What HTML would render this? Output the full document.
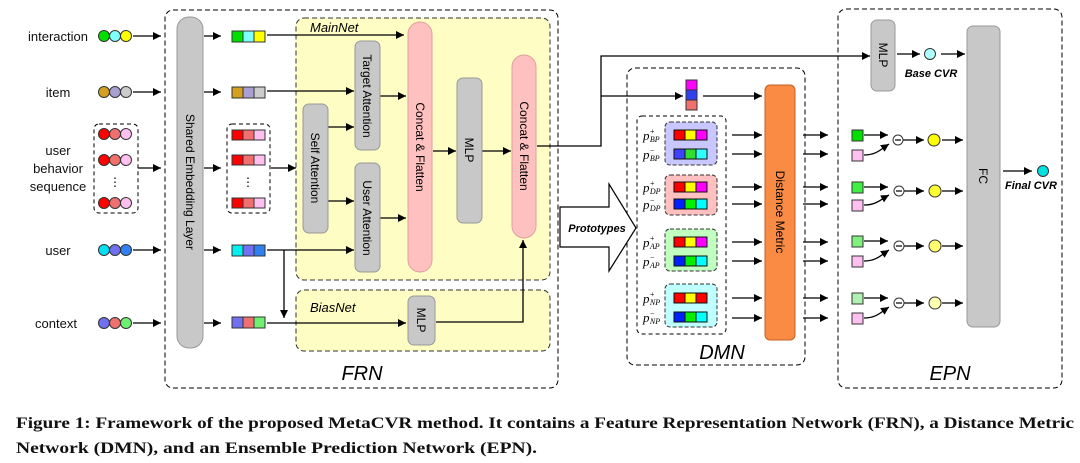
<!DOCTYPE html>
<html><head><meta charset="utf-8"><style>
html,body{margin:0;padding:0;background:#fff;}
svg{display:block;font-family:"Liberation Sans",sans-serif;}
</style></head><body>
<svg width="1080" height="463" viewBox="0 0 1080 463" xmlns="http://www.w3.org/2000/svg">
<defs>
<marker id="a" viewBox="0 0 10 10" refX="10" refY="5" markerWidth="8" markerHeight="8" markerUnits="userSpaceOnUse" orient="auto"><path d="M0,0 L10,5 L0,10 z" fill="#000"/></marker>
</defs>
<!-- boxes -->
<rect x="165" y="10" width="393" height="378" rx="8" fill="none" stroke="#000" stroke-dasharray="5,3"/>
<rect x="296" y="18" width="254" height="262" rx="8" fill="#fdfdc4" stroke="#333" stroke-dasharray="5,3"/>
<rect x="296" y="290" width="254" height="61" rx="8" fill="#fdfdc4" stroke="#333" stroke-dasharray="5,3"/>
<rect x="627" y="68" width="178" height="297" rx="8" fill="none" stroke="#000" stroke-dasharray="5,3"/>
<rect x="838" y="9" width="224" height="379" rx="8" fill="none" stroke="#000" stroke-dasharray="5,3"/>
<g stroke="#000" stroke-width="1.3" fill="none" marker-end="url(#a)">
<path d="M133 36 H161"/><path d="M133 92 H161"/><path d="M138 168 H161"/><path d="M133 250 H161"/><path d="M133 323 H161"/>
<path d="M204 36 H221"/><path d="M204 92 H221"/><path d="M204 168 H221"/><path d="M204 250 H221"/><path d="M204 323 H221"/>
<path d="M267 35 H404"/><path d="M267 91 H354"/><path d="M271 168 H296"/><path d="M267 250 H354"/>
<path d="M267 323 H406"/><path d="M284 250 V318"/>
<path d="M328 127 H354"/><path d="M328 201 H354"/>
<path d="M380 96 H406"/><path d="M380 218 H406"/>
<path d="M433 151 H456"/><path d="M482 151 H511"/>
<path d="M436 322 H523 V240"/>
<path d="M537 146 H601 V56 H870"/>
<path d="M601 96 H683"/>
<path d="M703 96 H762"/>
<path d="M897 54 H920"/><path d="M941 54 H965"/>
<path d="M1003 171 H1032"/>
</g>
<text x="310" y="32" font-size="13" font-style="italic">MainNet</text>
<text x="310" y="312" font-size="13" font-style="italic">BiasNet</text>
<text x="362" y="380" font-size="20" font-style="italic" text-anchor="middle">FRN</text>
<text x="722" y="359" font-size="20" font-style="italic" text-anchor="middle">DMN</text>
<text x="950" y="380" font-size="20" font-style="italic" text-anchor="middle">EPN</text>
<!-- left labels -->
<g font-size="13" text-anchor="middle" fill="#111">
<text x="58" y="41">interaction</text><text x="58" y="97">item</text>
<text x="58" y="155">user</text><text x="58" y="173">behavior</text><text x="58" y="191">sequence</text>
<text x="58" y="255">user</text><text x="56" y="328">context</text>
</g>
<g stroke="#333" stroke-width="1">
<circle cx="104" cy="36" r="5.5" fill="#00e000"/><circle cx="115" cy="36" r="5.5" fill="#80ffff"/><circle cx="126" cy="36" r="5.5" fill="#ffff00"/>
<circle cx="104" cy="92" r="5.5" fill="#d4a020"/><circle cx="115" cy="92" r="5.5" fill="#a8a0d0"/><circle cx="126" cy="92" r="5.5" fill="#ccc"/>
<circle cx="104" cy="134" r="5.5" fill="#f00"/><circle cx="115" cy="134" r="5.5" fill="#f07070"/><circle cx="126" cy="134" r="5.5" fill="#ffc0f0"/>
<circle cx="104" cy="160" r="5.5" fill="#f00"/><circle cx="115" cy="160" r="5.5" fill="#f07070"/><circle cx="126" cy="160" r="5.5" fill="#ffc0f0"/>
<circle cx="104" cy="203" r="5.5" fill="#f00"/><circle cx="115" cy="203" r="5.5" fill="#f07070"/><circle cx="126" cy="203" r="5.5" fill="#ffc0f0"/>
<circle cx="104" cy="250" r="5.5" fill="#00e0f0"/><circle cx="115" cy="250" r="5.5" fill="#7070f0"/><circle cx="126" cy="250" r="5.5" fill="#3080f0"/>
<circle cx="104" cy="323" r="5.5" fill="#7070f0"/><circle cx="115" cy="323" r="5.5" fill="#f07070"/><circle cx="126" cy="323" r="5.5" fill="#70f070"/>
</g>
<rect x="94" y="124" width="44" height="89" rx="5" fill="none" stroke="#000" stroke-dasharray="4,3"/>
<text x="115" y="186" font-size="12" text-anchor="middle">⋮</text>
<!-- shared emb -->
<rect x="177" y="17" width="26" height="331" rx="12" fill="#c8c8c8" stroke="#999"/>
<text transform="translate(186,182) rotate(90)" font-size="12" text-anchor="middle">Shared Embedding Layer</text>
<!-- embedding bars -->
<g stroke="#333" stroke-width="1">
<rect x="232" y="31" width="11" height="11" fill="#00e000"/><rect x="243" y="31" width="11" height="11" fill="#80ffff"/><rect x="254" y="31" width="11" height="11" fill="#ff0"/>
<rect x="232" y="87" width="11" height="11" fill="#d4a020"/><rect x="243" y="87" width="11" height="11" fill="#a8a0d0"/><rect x="254" y="87" width="11" height="11" fill="#ccc"/>
<rect x="232" y="130" width="11" height="10" fill="#f00"/><rect x="243" y="130" width="11" height="10" fill="#f07070"/><rect x="254" y="130" width="11" height="10" fill="#ffc0f0"/>
<rect x="232" y="155" width="11" height="10" fill="#f00"/><rect x="243" y="155" width="11" height="10" fill="#f07070"/><rect x="254" y="155" width="11" height="10" fill="#ffc0f0"/>
<rect x="232" y="198" width="11" height="10" fill="#f00"/><rect x="243" y="198" width="11" height="10" fill="#f07070"/><rect x="254" y="198" width="11" height="10" fill="#ffc0f0"/>
<rect x="232" y="245" width="11" height="11" fill="#00f0f0"/><rect x="243" y="245" width="11" height="11" fill="#7070f0"/><rect x="254" y="245" width="11" height="11" fill="#3080f0"/>
<rect x="232" y="317" width="11" height="11" fill="#7070f0"/><rect x="243" y="317" width="11" height="11" fill="#f07070"/><rect x="254" y="317" width="11" height="11" fill="#70f070"/>
</g>
<rect x="227" y="124" width="43" height="89" rx="5" fill="none" stroke="#000" stroke-dasharray="4,3"/>
<text x="248" y="186" font-size="12" text-anchor="middle">⋮</text>
<!-- blocks -->
<g stroke="#999" fill="#c8c8c8">
<rect x="355" y="41" width="25" height="109" rx="6"/>
<rect x="303" y="104" width="25" height="129" rx="6"/>
<rect x="355" y="163" width="25" height="109" rx="6"/>
<rect x="457" y="78" width="25" height="145" rx="6"/>
<rect x="408" y="296" width="27" height="49" rx="6"/>
<rect x="871" y="20" width="24" height="71" rx="6"/>
<rect x="967" y="26" width="33" height="301" rx="6"/>
</g>
<g fill="#ffc0c0" stroke="#e0a0a0">
<rect x="408" y="22" width="24" height="250" rx="12"/>
<rect x="512" y="55" width="24" height="183" rx="12"/>
</g>
<rect x="765" y="85" width="30" height="255" rx="5" fill="#f98b45" stroke="#c06020"/>
<g font-size="12" text-anchor="middle">
<text transform="translate(367,96) rotate(90)" dy="4">Target Attention</text>
<text transform="translate(315,168) rotate(90)" dy="4">Self Attention</text>
<text transform="translate(367,218) rotate(90)" dy="4">User Attention</text>
<text transform="translate(420,147) rotate(90)" dy="4">Concat &amp; Flatten</text>
<text transform="translate(469,150) rotate(90)" dy="4">MLP</text>
<text transform="translate(524,146) rotate(90)" dy="4">Concat &amp; Flatten</text>
<text transform="translate(421,320) rotate(90)" dy="4">MLP</text>
<text transform="translate(883,55) rotate(90)" dy="4">MLP</text>
<text transform="translate(983,176) rotate(90)" dy="4">FC</text>
<text transform="translate(780,212) rotate(90)" dy="4">Distance Metric</text>
</g>
<!-- DMN -->
<g stroke="#333" stroke-width="1">
<rect x="686" y="80" width="11" height="10" fill="#f0f"/><rect x="686" y="90" width="11" height="10" fill="#3040f0"/><rect x="686" y="100" width="11" height="10" fill="#f07070"/>
</g>
<rect x="637" y="116" width="89" height="218" rx="5" fill="none" stroke="#000" stroke-dasharray="4,3"/>
<g stroke="#333" stroke-dasharray="4,2">
<rect x="665" y="122" width="52" height="43" rx="5" fill="#c8c8ff"/>
<rect x="665" y="175" width="52" height="40" rx="5" fill="#ffc0c0"/>
<rect x="665" y="229" width="52" height="42" rx="5" fill="#c0ffc0"/>
<rect x="665" y="284" width="52" height="43" rx="5" fill="#c0ffff"/>
</g>
<g stroke="#111" stroke-width="1">
<rect x="674" y="130" width="11" height="10" fill="#f00"/><rect x="685" y="130" width="11" height="10" fill="#ff0"/><rect x="696" y="130" width="11" height="10" fill="#f0f"/>
<rect x="674" y="149" width="11" height="10" fill="#4040ff"/><rect x="685" y="149" width="11" height="10" fill="#30e030"/><rect x="696" y="149" width="11" height="10" fill="#30ffff"/>
<rect x="674" y="182" width="11" height="10" fill="#f00"/><rect x="685" y="182" width="11" height="10" fill="#ff0"/><rect x="696" y="182" width="11" height="10" fill="#f0f"/>
<rect x="674" y="199" width="11" height="10" fill="#0020ff"/><rect x="685" y="199" width="11" height="10" fill="#00f000"/><rect x="696" y="199" width="11" height="10" fill="#00ffff"/>
<rect x="674" y="237" width="11" height="10" fill="#f00"/><rect x="685" y="237" width="11" height="10" fill="#ff0"/><rect x="696" y="237" width="11" height="10" fill="#f0f"/>
<rect x="674" y="256" width="11" height="10" fill="#0020ff"/><rect x="685" y="256" width="11" height="10" fill="#00f000"/><rect x="696" y="256" width="11" height="10" fill="#00ffff"/>
<rect x="674" y="293" width="11" height="10" fill="#f00"/><rect x="685" y="293" width="11" height="10" fill="#ff0"/><rect x="696" y="293" width="11" height="10" fill="#f00"/>
<rect x="674" y="312" width="11" height="10" fill="#0020ff"/><rect x="685" y="312" width="11" height="10" fill="#00f000"/><rect x="696" y="312" width="11" height="10" fill="#00ffff"/>
</g>
<g font-family="Liberation Serif,serif" font-style="italic" font-size="13">
<text x="643" y="140">p<tspan font-size="8" dy="-6">+</tspan><tspan font-size="8" dx="-5" dy="8">BP</tspan></text>
<text x="643" y="159">p<tspan font-size="8" dy="-6">−</tspan><tspan font-size="8" dx="-5" dy="8">BP</tspan></text>
<text x="643" y="192">p<tspan font-size="8" dy="-6">+</tspan><tspan font-size="8" dx="-5" dy="8">DP</tspan></text>
<text x="643" y="209">p<tspan font-size="8" dy="-6">−</tspan><tspan font-size="8" dx="-5" dy="8">DP</tspan></text>
<text x="643" y="247">p<tspan font-size="8" dy="-6">+</tspan><tspan font-size="8" dx="-5" dy="8">AP</tspan></text>
<text x="643" y="266">p<tspan font-size="8" dy="-6">−</tspan><tspan font-size="8" dx="-5" dy="8">AP</tspan></text>
<text x="643" y="303">p<tspan font-size="8" dy="-6">+</tspan><tspan font-size="8" dx="-5" dy="8">NP</tspan></text>
<text x="643" y="322">p<tspan font-size="8" dy="-6">−</tspan><tspan font-size="8" dx="-5" dy="8">NP</tspan></text>
</g>
<g stroke="#000" stroke-width="1.3" fill="none" marker-end="url(#a)">
<path d="M732 135 H762"/><path d="M732 154 H762"/><path d="M732 187 H762"/><path d="M732 204 H762"/>
<path d="M732 242 H762"/><path d="M732 261 H762"/><path d="M732 298 H762"/><path d="M732 318 H762"/>
<path d="M803 135 H828"/><path d="M803 154 H828"/><path d="M803 187 H828"/><path d="M803 204 H828"/>
<path d="M803 242 H828"/><path d="M803 261 H828"/><path d="M803 298 H828"/><path d="M803 318 H828"/>
<path d="M864 135 H888"/><path d="M864 155 C876 155 880 150 889 144"/><path d="M903 140 H924"/><path d="M942 140 H963"/>
<path d="M864 187 H888"/><path d="M864 205 C876 205 880 200 889 195"/><path d="M904 191 H924"/><path d="M942 191 H963"/>
<path d="M864 241 H888"/><path d="M864 261 C876 261 880 256 889 250"/><path d="M904 246 H924"/><path d="M942 246 H963"/>
<path d="M864 298 H888"/><path d="M864 318 C876 318 880 313 889 307"/><path d="M904 303 H924"/><path d="M942 303 H963"/>
</g>
<!-- prototypes arrow -->
<path d="M560 207 H609 V184 L636 228 L609 271 V247 H560 Z" fill="#fff" stroke="#000" stroke-width="1.2"/>
<text x="597" y="232" font-size="11" font-weight="bold" font-style="italic" text-anchor="middle">Prototypes</text>
<!-- EPN -->
<circle cx="930" cy="54" r="5.5" fill="#b0ffff" stroke="#333"/>
<text x="931" y="77" font-size="11" font-weight="bold" font-style="italic" text-anchor="middle">Base CVR</text>
<circle cx="1043" cy="171" r="5.5" fill="#00e0e0" stroke="#333"/>
<text x="1031" y="189" font-size="11" font-weight="bold" font-style="italic" text-anchor="middle">Final CVR</text>
<g stroke="#333" stroke-width="1">
<rect x="852" y="130" width="11" height="11" fill="#00e000"/><rect x="852" y="150" width="11" height="11" fill="#ffc0f0"/>
<rect x="852" y="182" width="11" height="11" fill="#40f040"/><rect x="852" y="200" width="11" height="11" fill="#ffc0f0"/>
<rect x="852" y="236" width="11" height="11" fill="#80f080"/><rect x="852" y="256" width="11" height="11" fill="#ffc0f0"/>
<rect x="852" y="293" width="11" height="11" fill="#b0f0b0"/><rect x="852" y="313" width="11" height="11" fill="#ffc0f0"/>
<circle cx="898" cy="140" r="5" fill="#fff"/><circle cx="899" cy="191" r="5" fill="#fff"/><circle cx="899" cy="246" r="5" fill="#fff"/><circle cx="899" cy="303" r="5" fill="#fff"/>
<circle cx="934" cy="140" r="6" fill="#ffff00"/><circle cx="935" cy="191" r="6" fill="#ffff30"/><circle cx="935" cy="246" r="6" fill="#ffff70"/><circle cx="935" cy="303" r="6" fill="#ffffb0"/>
</g>
<g stroke="#000" stroke-width="1.2"><path d="M895 140 H901"/><path d="M896 191 H902"/><path d="M896 246 H902"/><path d="M896 303 H902"/></g>
<!-- caption -->
<g font-family="Liberation Serif,serif" font-weight="bold" font-size="16" fill="#111">
<text x="16" y="428" textLength="1058" lengthAdjust="spacingAndGlyphs">Figure 1: Framework of the proposed MetaCVR method. It contains a Feature Representation Network (FRN), a Distance Metric</text>
<text x="16" y="453" textLength="521" lengthAdjust="spacingAndGlyphs">Network (DMN), and an Ensemble Prediction Network (EPN).</text>
</g>
</svg>
</body></html>
